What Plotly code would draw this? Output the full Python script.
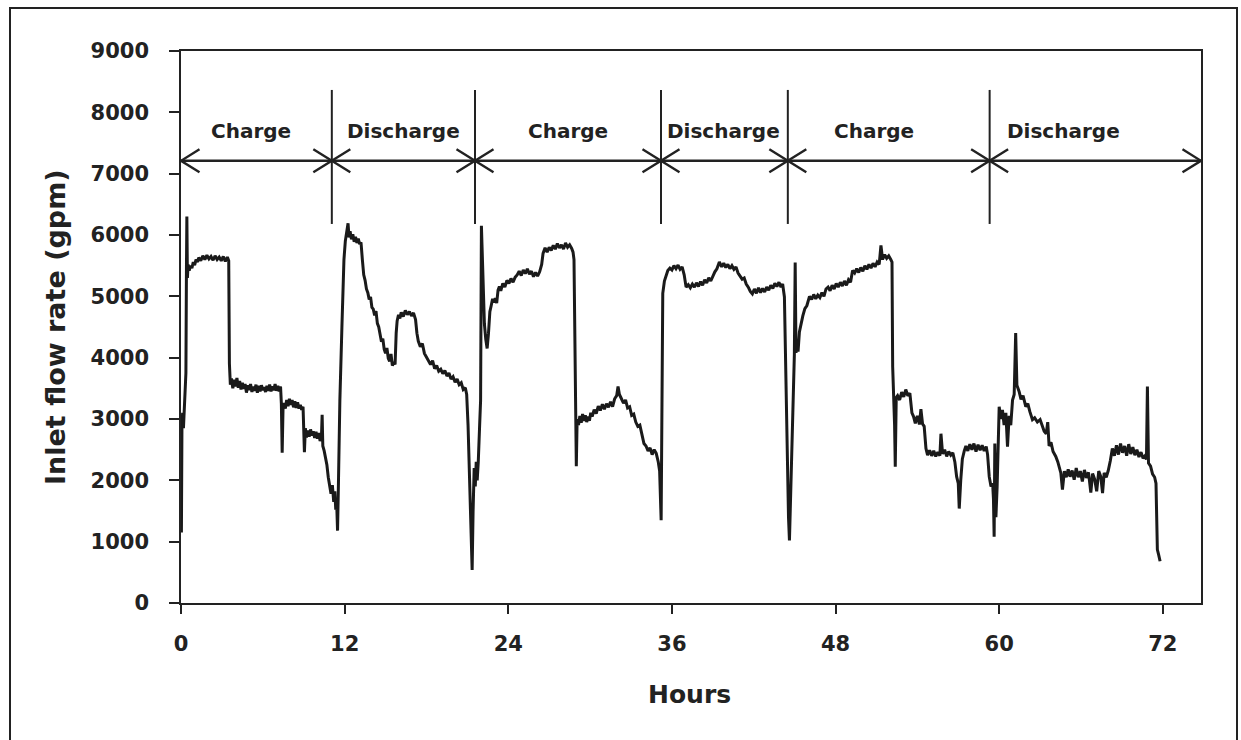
import plotly.graph_objects as go

# ---------------- data ----------------
hours = [
    # charge 1
    0.00, 0.03, 0.07, 0.12, 0.18, 0.25, 0.30, 0.36, 0.40, 0.43,
    0.47, 0.52, 0.60, 0.70, 0.80, 0.90, 1.00, 1.10, 1.20, 1.30,
    1.45, 1.60, 1.75, 1.90, 2.05, 2.20, 2.35, 2.50, 2.65, 2.80,
    2.95, 3.10, 3.25, 3.40, 3.50,
    3.55, 3.62, 3.70, 3.80, 3.90, 4.00, 4.10, 4.20, 4.30, 4.40,
    4.50, 4.60, 4.70, 4.80, 4.90, 5.00, 5.10, 5.20, 5.30, 5.40,
    5.50, 5.60, 5.70, 5.80, 5.90, 6.00, 6.10, 6.20, 6.30, 6.40,
    6.50, 6.60, 6.70, 6.80, 6.90, 7.00, 7.10, 7.20, 7.30,
    7.36, 7.42, 7.48, 7.55, 7.65, 7.75, 7.85, 7.95, 8.05, 8.15,
    8.25, 8.35, 8.45, 8.55, 8.65, 8.75, 8.85, 8.95, 9.05, 9.12,
    9.20, 9.30, 9.40, 9.50, 9.60, 9.70, 9.80, 9.90, 10.00, 10.10,
    10.20, 10.30, 10.35, 10.40, 10.50, 10.60, 10.70, 10.80, 10.90, 11.00,
    11.10, 11.20, 11.28, 11.35, 11.42, 11.48, 11.55, 11.65, 11.80, 11.95,
    # discharge 1
    12.05, 12.15, 12.25, 12.32, 12.40, 12.50, 12.60, 12.70, 12.80, 12.90,
    13.00, 13.10, 13.20, 13.30, 13.40, 13.50, 13.60, 13.70, 13.80, 13.90,
    14.00, 14.10, 14.20, 14.30, 14.40, 14.50, 14.60, 14.70, 14.80, 14.90,
    15.00, 15.10, 15.20, 15.30, 15.40, 15.50, 15.60, 15.70,
    15.78, 15.85, 15.95, 16.05, 16.15, 16.30, 16.45, 16.60, 16.75, 16.90,
    17.05, 17.20, 17.30, 17.40, 17.55, 17.70, 17.85, 18.00, 18.15, 18.30,
    18.45, 18.60, 18.75, 18.90, 19.05, 19.20, 19.35, 19.50, 19.65, 19.80,
    19.95, 20.10, 20.25, 20.40, 20.55, 20.70, 20.85, 20.95, 21.05, 21.15,
    21.22, 21.28, 21.35, 21.42, 21.50, 21.58, 21.65, 21.72, 21.80, 21.90,
    # charge 2
    21.97, 22.03, 22.10, 22.18, 22.25, 22.35, 22.45, 22.55, 22.65, 22.75,
    22.85, 22.95, 23.05, 23.15, 23.25, 23.35, 23.45, 23.60, 23.75, 23.90,
    24.05, 24.20, 24.35, 24.50, 24.65, 24.80, 24.95, 25.10, 25.25, 25.40,
    25.55, 25.70, 25.85, 26.00, 26.15, 26.30, 26.45, 26.55, 26.70, 26.85,
    27.00, 27.15, 27.30, 27.45, 27.60, 27.75, 27.90, 28.05, 28.20, 28.35,
    28.50, 28.65, 28.75, 28.82,
    28.88, 28.93, 28.99, 29.05, 29.15, 29.25, 29.35, 29.45, 29.55, 29.65,
    29.75, 29.85, 29.95, 30.05, 30.15, 30.30, 30.45, 30.60, 30.75, 30.90,
    31.05, 31.20, 31.35, 31.50, 31.65, 31.80, 31.95, 32.05, 32.15, 32.30,
    32.45, 32.60, 32.75, 32.90, 33.05, 33.20, 33.35, 33.50, 33.65, 33.80,
    33.95, 34.10, 34.25, 34.40, 34.55, 34.70, 34.85, 35.00, 35.10, 35.21,
    # discharge 2
    35.28, 35.33, 35.45, 35.58, 35.70, 35.85, 36.00, 36.15, 36.30, 36.45,
    36.60, 36.75, 36.90, 37.04, 37.20, 37.35, 37.50, 37.65, 37.80, 37.95,
    38.10, 38.25, 38.40, 38.55, 38.70, 38.85, 39.00, 39.15, 39.30, 39.48,
    39.65, 39.80, 39.95, 40.10, 40.25, 40.40, 40.55, 40.70, 40.85, 41.00,
    41.15, 41.30, 41.45, 41.60, 41.75, 41.90, 42.05, 42.20, 42.35, 42.50,
    42.65, 42.80, 42.95, 43.10, 43.25, 43.40, 43.55, 43.70, 43.85, 44.00,
    44.12, 44.25,
    44.35, 44.45, 44.55, 44.62, 44.72, 44.82, 44.92, 44.98, 45.04, 45.10,
    # charge 3
    45.18, 45.25, 45.35, 45.45, 45.60, 45.75, 45.90, 46.09, 46.25, 46.40,
    46.55, 46.70, 46.85, 47.00, 47.15, 47.30, 47.45, 47.60, 47.75, 47.90,
    48.05, 48.20, 48.35, 48.50, 48.65, 48.80, 48.95, 49.10, 49.25, 49.40,
    49.55, 49.70, 49.85, 50.00, 50.15, 50.30, 50.45, 50.60, 50.75, 50.90,
    51.05, 51.20, 51.33, 51.45, 51.60, 51.75, 51.90, 52.05, 52.14,
    52.19, 52.25, 52.33, 52.38, 52.45, 52.55, 52.70, 52.85, 53.00, 53.15,
    53.30, 53.45, 53.60, 53.72, 53.85, 54.00, 54.15, 54.26, 54.38, 54.50,
    54.63, 54.75, 54.90, 55.05, 55.20, 55.35, 55.50, 55.65, 55.73, 55.85,
    56.00, 56.15, 56.30, 56.45, 56.60, 56.75, 56.88, 57.00, 57.07, 57.18,
    57.30, 57.44, 57.56, 57.70, 57.85, 58.00, 58.15, 58.30, 58.45, 58.60,
    58.75, 58.90, 59.05, 59.15, 59.27, 59.40, 59.52, 59.58, 59.63, 59.68,
    # discharge 3
    59.76, 59.85, 59.93, 60.00, 60.12, 60.24, 60.36, 60.49, 60.61, 60.73,
    60.85, 60.98, 61.10, 61.21, 61.30, 61.46, 61.60, 61.75, 61.95, 62.10,
    62.25, 62.44, 62.60, 62.80, 63.00, 63.17, 63.30, 63.45, 63.56, 63.66,
    63.80, 63.95, 64.15, 64.30, 64.52, 64.64, 64.78, 64.92, 65.06, 65.20,
    65.35, 65.50, 65.65, 65.80, 65.95, 66.10, 66.25, 66.40, 66.55, 66.72,
    66.85, 67.00, 67.15, 67.30, 67.45, 67.58, 67.70, 67.85, 68.00, 68.15,
    68.30, 68.45, 68.60, 68.75, 68.90, 69.05, 69.20, 69.35, 69.50, 69.65,
    69.80, 69.95, 70.10, 70.25, 70.40, 70.55, 70.70, 70.80, 70.87, 70.95,
    71.10, 71.25, 71.40, 71.50, 71.60, 71.70, 71.80,
]

flow_gpm = [
    # charge 1
    2750, 1150, 2900, 3100, 2850, 3300, 3600, 3750, 5450, 6300,
    5300, 5520, 5420, 5500, 5460, 5560, 5510, 5600, 5560, 5630,
    5580, 5660, 5600, 5670, 5610, 5650, 5590, 5660, 5600, 5640,
    5580, 5650, 5570, 5640, 5580,
    3900, 3560, 3660, 3500, 3640, 3530, 3670, 3510, 3620, 3480,
    3590, 3490, 3570, 3430, 3550, 3470, 3570, 3440, 3530, 3460,
    3560, 3430, 3540, 3450, 3550, 3470, 3520, 3440, 3540, 3460,
    3560, 3450, 3530, 3470, 3570, 3460, 3540, 3450, 3530,
    3250, 2450, 3150, 3260, 3170, 3310, 3210, 3330, 3230, 3310,
    3190, 3290, 3180, 3270, 3170, 3230, 3150, 3200, 2460, 2850,
    2700, 2810, 2710, 2830, 2730, 2800, 2690, 2790, 2680, 2770,
    2640, 2700, 3070, 2560, 2480, 2380, 2250, 2050, 1880, 1780,
    1920, 1650, 1820, 1520, 1600, 1180, 2000, 3300, 4500, 5600,
    # discharge 1
    5900, 6050, 6190, 5960, 6060, 5930, 6010, 5890, 5970, 5870,
    5940, 5850, 5880, 5600, 5350, 5260, 5120, 5060, 4950, 4990,
    4820, 4790, 4690, 4760, 4560, 4500, 4370, 4260, 4310, 4140,
    4070, 4160, 3990, 3940, 4060, 3870, 3930, 3890,
    4400, 4600, 4700, 4640, 4740, 4670, 4770, 4700, 4750, 4680,
    4730, 4620, 4400, 4270, 4180, 4230, 4070, 4010, 3960, 3890,
    3950, 3820, 3870, 3780, 3810, 3740, 3790, 3700, 3750, 3650,
    3690, 3600, 3650, 3560, 3590, 3480, 3510, 3400, 2900, 2200,
    1800, 1200, 540, 1500, 2200, 1900, 2300, 2000, 2300, 2900,
    # charge 2
    3300, 6150, 5600, 4900, 4550, 4300, 4150, 4400, 4750, 4850,
    4960, 4900, 4970, 4890, 5100, 5160, 5090, 5210, 5150, 5260,
    5210, 5290, 5230, 5310, 5350, 5410, 5340, 5430, 5370, 5450,
    5360, 5410, 5320, 5390, 5330, 5400, 5520, 5700, 5790, 5720,
    5800, 5750, 5830, 5770, 5860, 5790, 5840, 5770, 5870, 5800,
    5840, 5780, 5720, 5600,
    3900, 3500, 2230, 3000, 2900, 3050, 2940, 3080, 2970, 3060,
    2950, 3040, 2970, 3100, 3040, 3150, 3090, 3210, 3140, 3240,
    3160, 3250, 3190, 3280, 3200, 3330, 3380, 3530, 3400, 3330,
    3260, 3310, 3180, 3200, 3060, 3080, 2950, 2880, 2900, 2750,
    2600, 2560, 2480, 2530, 2420, 2500, 2440, 2300, 2150, 1350,
    # discharge 2
    4000, 5050, 5250, 5330, 5420, 5460, 5430, 5500, 5450, 5510,
    5440, 5480, 5350, 5150, 5190, 5140, 5200, 5150, 5220, 5160,
    5240, 5180, 5270, 5220, 5300, 5250, 5330, 5400, 5450, 5560,
    5480, 5540, 5470, 5520, 5450, 5500, 5440, 5480, 5380, 5330,
    5280, 5300, 5200, 5150, 5080, 5040, 5120, 5050, 5140, 5060,
    5130, 5070, 5150, 5100, 5180, 5130, 5210, 5160, 5230, 5150,
    5200, 4990,
    3600, 2300, 1400, 1020, 1800, 2700, 3700, 4050, 5550, 4080,
    # charge 3
    4300, 4100, 4420, 4550, 4680, 4800, 4850, 5000, 4950, 5030,
    4960, 5020, 4980, 5060, 5000, 5120, 5150, 5090, 5180, 5120,
    5210, 5150, 5230, 5170, 5250, 5180, 5270, 5230, 5420, 5380,
    5450, 5390, 5470, 5410, 5500, 5440, 5520, 5460, 5540, 5480,
    5560, 5520, 5830, 5600, 5680, 5620, 5660, 5600, 5560,
    3850, 3500, 2900, 2220, 3350, 3380, 3310, 3440, 3360, 3480,
    3380, 3420, 3100, 3040, 2930, 3050, 2910, 3160, 2920, 2880,
    2520, 2410, 2490, 2400, 2480, 2390, 2460, 2400, 2760, 2430,
    2500, 2390, 2470, 2410, 2450, 2300, 2060, 1950, 1540, 2000,
    2350, 2480, 2560, 2480, 2590, 2500, 2600, 2470, 2580, 2490,
    2570, 2480, 2550, 2420, 2060, 1900, 1950, 1700, 1080, 2600,
    # discharge 3
    1400, 1900, 2500, 3200, 3000, 3150, 2900, 3100, 2550, 3050,
    2900, 3310, 3400, 4400, 3550, 3450, 3320, 3380, 3200, 3250,
    3120, 2990, 3020, 2950, 2990, 2880, 2800, 2760, 2950, 2560,
    2620, 2470, 2390, 2300, 2120, 1850, 2150, 2050, 2180, 2060,
    2160, 2010, 2200, 2050, 2150, 1980, 2170, 2040, 2130, 1800,
    2110, 2020, 1820, 2150, 2060, 1790, 2120, 2050, 2160, 2320,
    2520, 2400, 2570, 2420, 2600, 2450, 2560, 2400, 2590, 2430,
    2540, 2410, 2500, 2380, 2460, 2360, 2400, 2340, 3530, 2280,
    2230, 2100, 2050, 1950, 870, 780, 680,
]

phase_names = ["Charge", "Discharge", "Charge", "Discharge", "Charge", "Discharge"]
phase_boundaries_h = [11.06, 21.56, 35.2, 44.5, 59.3]

x_tick_vals = [0, 12, 24, 36, 48, 60, 72]
y_tick_vals = [0, 1000, 2000, 3000, 4000, 5000, 6000, 7000, 8000, 9000]

# ---------------- layout constants ----------------
W, H = 1241, 740
M_L, M_R, M_T, M_B = 181, 40, 51, 137
X_MAX, Y_MAX = 74.8, 9000
plot_w = W - M_L - M_R
plot_h = H - M_T - M_B
px_per_h = plot_w / X_MAX
px_per_unit = plot_h / Y_MAX

ARROW_Y = 7210
LABEL_Y = 7700
VLINE_Y0, VLINE_Y1 = 6180, 8365
HEAD_DX = 18.5 / px_per_h
HEAD_DY = 11.5 / px_per_unit
label_h = [5.1, 16.3, 28.35, 39.8, 50.8, 64.7]

INK = "#222222"
FONT = "DejaVu Sans"

fig = go.Figure()

# main flow trace
fig.add_trace(go.Scatter(
    x=hours, y=flow_gpm, mode="lines",
    line=dict(color="#1a1a1a", width=3),
    hoverinfo="skip", showlegend=False,
))

# phase boundary vertical lines
vx, vy = [], []
for b in phase_boundaries_h:
    vx += [b, b, None]
    vy += [VLINE_Y0, VLINE_Y1, None]
fig.add_trace(go.Scatter(x=vx, y=vy, mode="lines",
                         line=dict(color=INK, width=2),
                         hoverinfo="skip", showlegend=False))

# horizontal double arrow line and chevrons
ax = [0, X_MAX, None]
ay = [ARROW_Y, ARROW_Y, None]
ax += [HEAD_DX, 0, HEAD_DX, None]
ay += [ARROW_Y + HEAD_DY, ARROW_Y, ARROW_Y - HEAD_DY, None]
ax += [X_MAX - HEAD_DX, X_MAX, X_MAX - HEAD_DX, None]
ay += [ARROW_Y + HEAD_DY, ARROW_Y, ARROW_Y - HEAD_DY, None]
for b in phase_boundaries_h:
    ax += [b - HEAD_DX, b, b - HEAD_DX, None]
    ay += [ARROW_Y + HEAD_DY, ARROW_Y, ARROW_Y - HEAD_DY, None]
    ax += [b + HEAD_DX, b, b + HEAD_DX, None]
    ay += [ARROW_Y + HEAD_DY, ARROW_Y, ARROW_Y - HEAD_DY, None]
fig.add_trace(go.Scatter(x=ax, y=ay, mode="lines",
                         line=dict(color=INK, width=2.4),
                         hoverinfo="skip", showlegend=False))

# phase labels
for name, hx in zip(phase_names, label_h):
    fig.add_annotation(x=hx, y=LABEL_Y, xref="x", yref="y", text=name,
                       showarrow=False, xanchor="center", yanchor="middle",
                       font=dict(family=FONT, size=20, color=INK, weight="bold"))

# axis titles
fig.add_annotation(x=(55 - M_L) / plot_w, y=0.5, xref="paper", yref="paper",
                   text="Inlet flow rate (gpm)", textangle=-90, showarrow=False,
                   xanchor="center", yanchor="middle",
                   font=dict(family=FONT, size=27, color=INK, weight="bold"))
fig.add_annotation(x=(689 - M_L) / plot_w, y=-(694 - (H - M_B)) / plot_h,
                   xref="paper", yref="paper", text="Hours", showarrow=False,
                   xanchor="center", yanchor="middle",
                   font=dict(family=FONT, size=25, color=INK, weight="bold"))

# outer frame
fig.add_shape(type="rect", xref="paper", yref="paper",
              x0=(10 - M_L) / plot_w, x1=(1237 - M_L) / plot_w,
              y0=-0.4, y1=((H - M_B) - 8) / plot_h,
              line=dict(color=INK, width=2), fillcolor="rgba(0,0,0,0)",
              layer="above")

fig.update_layout(
    width=W, height=H,
    margin=dict(l=M_L, r=M_R, t=M_T, b=M_B, pad=0),
    paper_bgcolor="white", plot_bgcolor="white",
    showlegend=False,
    xaxis=dict(range=[0, X_MAX], tickvals=x_tick_vals,
               ticktext=[str(v) for v in x_tick_vals],
               ticks="outside", ticklen=9, tickwidth=1.5, tickcolor=INK,
               showline=True, linecolor=INK, linewidth=1.5, mirror=True,
               showgrid=False, zeroline=False, ticklabelstandoff=12,
               tickfont=dict(family=FONT, size=21, color=INK, weight="bold")),
    yaxis=dict(range=[0, Y_MAX], tickvals=y_tick_vals,
               ticktext=[str(v) for v in y_tick_vals],
               ticks="outside", ticklen=10, tickwidth=1.5, tickcolor=INK,
               showline=True, linecolor=INK, linewidth=1.5, mirror=True,
               showgrid=False, zeroline=False, ticklabelstandoff=16,
               tickfont=dict(family=FONT, size=21, color=INK, weight="bold")),
)

fig.write_html("out.html")
